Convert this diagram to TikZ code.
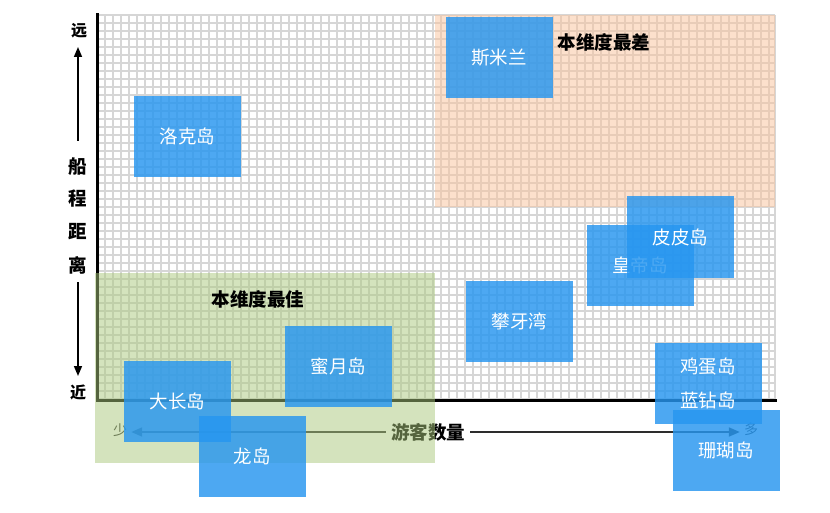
\documentclass[tikz,border=0pt]{standalone}
\usepackage{fontspec}
\newfontfamily\cjk{Noto Sans CJK SC}
\usetikzlibrary{arrows.meta}
\definecolor{boxblue}{RGB}{38,150,240}
\definecolor{regiongreen}{RGB}{171,201,125}
\definecolor{regionorange}{RGB}{251,195,155}
\definecolor{gridgray}{RGB}{214,214,214}
\definecolor{arrowgray}{RGB}{45,45,45}
\begin{document}
\begin{tikzpicture}[x=1pt,y=-1pt,
  island/.style={fill=boxblue, fill opacity=0.82, text opacity=1, text=white,
    minimum width=107pt, minimum height=81pt, inner sep=0pt,
    font=\cjk\fontsize{18.5pt}{34pt}\selectfont, align=center},
  regiontitle/.style={font=\cjk\bfseries\fontsize{18.5pt}{20pt}\selectfont, text=black, inner sep=1pt},
  axislabel/.style={font=\cjk\bfseries\fontsize{18.5pt}{20pt}\selectfont, text=black, inner sep=1pt},
  endlabel/.style={font=\cjk\bfseries\fontsize{16pt}{18pt}\selectfont, text=black, inner sep=1pt},
  qtylabel/.style={font=\cjk\bfseries\fontsize{18.5pt}{20pt}\selectfont, text=black, inner xsep=5pt, inner ysep=1pt},
  smalllabel/.style={font=\cjk\fontsize{14pt}{16pt}\selectfont, text=arrowgray, inner xsep=4pt, inner ysep=1pt},
  gridline/.style={gridgray, line width=2pt},
  axisline/.style={black, line width=3pt},
  vertarrow/.style={black, line width=1.5pt, -{Triangle[length=10pt,width=8pt]}},
  horarrow/.style={arrowgray, line width=2pt, -{Triangle[length=11pt,width=9pt]}},
  greenregion/.style={fill=regiongreen, fill opacity=0.5},
  orangeregion/.style={fill=regionorange, fill opacity=0.5}
]
\useasboundingbox (0,0) rectangle (830,513);
\fill[white] (0,0) rectangle (830,513);

% grid
\foreach \i in {1,...,84} {
  \draw[gridline] ({97+\i*8},15) -- ({97+\i*8},400);
}
\draw[gridline] (775,15) -- (775,400);
\foreach \j in {0,...,48} {
  \draw[gridline] (97,{15+\j*8}) -- (775,{15+\j*8});
}

% axes
\coordinate (ytop) at (97,15);
\coordinate (origin) at (97,400);
\coordinate (xend) at (775,400);
\draw[axisline, line cap=rect] (ytop) -- (origin) -- (xend);

% vertical axis labels
\node[endlabel] (far) at (79,31) {远};
\node[axislabel] (c1) at (78,167) {船};
\node[axislabel] (c2) at (78,199) {程};
\node[axislabel] (c3) at (78,232) {距};
\node[axislabel] (c4) at (78,265) {离};
\node[endlabel] (near) at (78,392) {近};
\coordinate (uptail) at (78,141);
\coordinate (uptip) at (78,47);
\coordinate (downtail) at (78,282);
\coordinate (downtip) at (78,376);
\draw[vertarrow] (uptail) -- (uptip);
\draw[vertarrow] (downtail) -- (downtip);

% horizontal axis labels
\node[qtylabel] (qty) at (428,432) {游客数量};
\node[smalllabel] (few) at (120,430) {少};
\node[smalllabel] (many) at (751,429) {多};
\draw[horarrow] (qty.west) -- (few.east |- qty.west);
\draw[horarrow] (qty.east) -- (many.west |- qty.east);

% regions
\fill[greenregion] (95,273) rectangle (435,463);
\fill[orangeregion] (435,15) rectangle (775,207);
\node[regiontitle] (best) at (258,299) {本维度最佳};
\node[regiontitle] (worst) at (604,42) {本维度最差};

% islands
\node[island] (luoke) at (187.5,136.5) {洛克岛};
\node[island] (similan) at (499,57.5) {斯米兰};
\node[island] (huangdi) at (640,265.5) {皇帝岛};
\node[island] (pipi) at (680.5,237) {皮皮岛};
\node[island] (panya) at (519.5,321) {攀牙湾};
\node[island] (jidan) at (708,383) {鸡蛋岛\\蓝钻岛};
\node[island] (shanhu) at (726,450) {珊瑚岛};
\node[island] (miyue) at (338.5,366) {蜜月岛};
\node[island] (dachang) at (177.5,401.5) {大长岛};
\node[island] (long) at (252,456.5) {龙岛};
\end{tikzpicture}
\end{document}
